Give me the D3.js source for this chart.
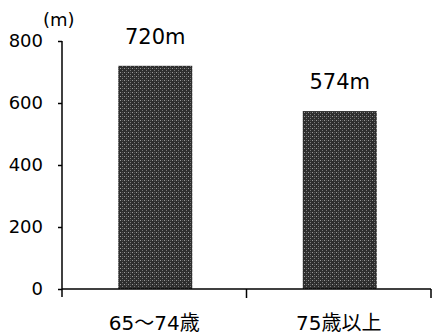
<!DOCTYPE html>
<html><head><meta charset="utf-8">
<script src="https://cdn.jsdelivr.net/npm/d3@7"></script>
<style>body{margin:0;background:#fff}svg{display:block}text{font-family:"DejaVu Sans","Noto Sans CJK JP",sans-serif;fill:#000}</style>
</head><body>
<script>
const categories = ["65〜74歳", "75歳以上"];
const values = [720, 574];
const valueLabels = ["720m", "574m"];
const yTicks = [0, 200, 400, 600, 800];

const W = 432, H = 336;
const svg = d3.select("body").append("svg").attr("width", W).attr("height", H);
const defs = svg.append("defs");
const pat = defs.append("pattern").attr("id","dots").attr("width",4).attr("height",4).attr("patternUnits","userSpaceOnUse");
pat.append("rect").attr("width",4).attr("height",4).attr("fill","#2e2e2e");
pat.append("rect").attr("x",0).attr("y",0).attr("width",1).attr("height",1).attr("fill","#9a9a9a");
pat.append("rect").attr("x",2).attr("y",2).attr("width",1).attr("height",1).attr("fill","#7a7a7a");
pat.append("rect").attr("x",2).attr("y",0).attr("width",1).attr("height",1).attr("fill","#555");

const x0 = 62, x1 = 431, yTop = 41, yBot = 289;
const x = d3.scaleBand().domain(categories).range([x0, x1]).paddingInner(0).paddingOuter(0);
const y = d3.scaleLinear().domain([0, 800]).range([yBot, yTop]);
const barW = 74;

// bars
svg.selectAll("rect.bar").data(values).enter().append("rect")
  .attr("class","bar")
  .attr("x", (d,i) => x(categories[i]) + x.bandwidth()/2 - barW/2 + 1)
  .attr("width", barW)
  .attr("y", d => y(d))
  .attr("height", d => y(0) - y(d))
  .attr("fill", "url(#dots)");

// y axis
const yAxis = d3.axisLeft(y).tickValues(yTicks).tickSize(4).tickSizeOuter(0).tickPadding(15);
const gy = svg.append("g").attr("transform", `translate(${x0},0)`).call(yAxis);
gy.select(".domain").remove();
gy.append("line").attr("x1",0).attr("x2",0).attr("y1",yTop).attr("y2",yBot+8).attr("stroke","#000").attr("stroke-width",1.5);
gy.selectAll(".tick line").attr("stroke","#000").attr("stroke-width",1.5);
gy.selectAll(".tick text").attr("fill","#000").attr("dy","0.3em")
  .style("font-size","18px")
  .style("font-family",'"DejaVu Sans","Noto Sans CJK JP",sans-serif');

// x axis
const gx = svg.append("g").attr("transform", `translate(0,${yBot})`);
gx.append("line").attr("x1",x0).attr("x2",x1).attr("y1",0).attr("y2",0).attr("stroke","#000").attr("stroke-width",1.5);
const bounds = categories.map(c => x(c)).concat([x(categories[categories.length-1]) + x.bandwidth()]);
gx.selectAll("line.xt").data(bounds.slice(1)).enter().append("line").attr("class","xt")
  .attr("x1", d => d).attr("x2", d => d).attr("y1", 0).attr("y2", 9)
  .attr("stroke","#000").attr("stroke-width",1.5);

// category labels
svg.selectAll("text.cat").data(categories).enter().append("text").attr("class","cat")
  .attr("x", d => x(d) + x.bandwidth()/2)
  .attr("y", 330)
  .attr("text-anchor","middle")
  .style("font-size","20px")
  .text(d => d);

// value labels
svg.selectAll("text.val").data(values).enter().append("text").attr("class","val")
  .attr("x", (d,i) => x(categories[i]) + x.bandwidth()/2 + 1)
  .attr("y", d => y(d) - 22)
  .attr("text-anchor","middle")
  .style("font-size","21px")
  .text((d,i) => valueLabels[i]);

// unit
svg.append("text").attr("x", 43).attr("y", 26).style("font-size","18px").text("(m)");
</script>
</body></html>
